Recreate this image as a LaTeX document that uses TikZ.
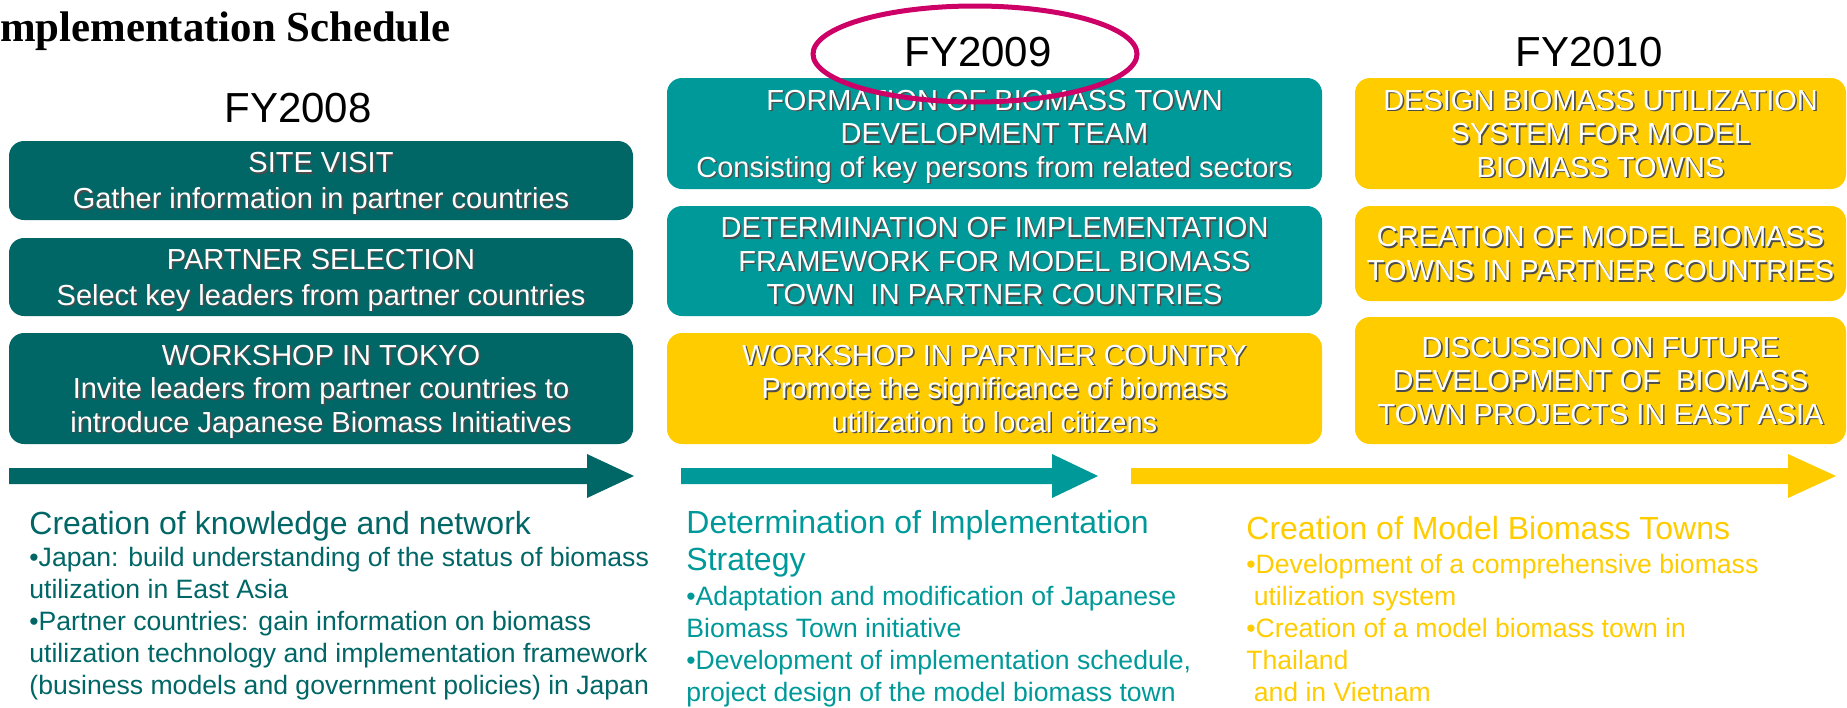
\documentclass[tikz,border=0pt]{standalone}
\usepackage{fontspec}
\setmainfont{Liberation Sans}
\newfontfamily\titleserif{Liberation Serif}
\definecolor{darkteal}{HTML}{006666}
\definecolor{midteal}{HTML}{009999}
\definecolor{gold}{HTML}{FFCC00}
\definecolor{ring}{HTML}{CC0066}
\newcommand{\shtxt}[1]{\makebox[0pt][l]{\kern0.8pt\raisebox{-0.8pt}{\textcolor{black!70}{#1}}}#1}

\begin{document}
\begin{tikzpicture}[x=0.5pt,y=-0.5pt,
  box/.style={rounded corners=7.5pt, text=white, align=center, inner sep=0pt, text depth=0pt,
    font=\fontsize{14.5}{16.8}\selectfont},
  widebox/.style={box, font=\fontsize{14.5}{18}\selectfont},
  year/.style={inner sep=0pt, font=\fontsize{21}{25}\selectfont},
  headtxt/.style={anchor=base west, inner sep=0pt, align=left, font=\fontsize{16}{18.5}\selectfont},
  bullettxt/.style={anchor=base west, inner sep=0pt, align=left, font=\fontsize{13.3}{16}\selectfont}]
  \useasboundingbox (0,0) rectangle (1847,707);

  % titolo
  \node[anchor=base east, inner sep=0pt, font=\titleserif\bfseries\fontsize{21.4}{25}\selectfont] (title) at (451,41) {Implementation Schedule};

  % anni
  \node[year] (fy08) at (298,108) {FY2008};
  \node[year] (fy09) at (978,52) {FY2009};
  \node[year] (fy10) at (1589,52) {FY2010};

  % FY2008
  \node[widebox, fill=darkteal, minimum width=312pt, minimum height=39.5pt] (visit) at (321,180.5)
    {\shtxt{SITE VISIT}\\ \shtxt{Gather information in partner countries}};
  \node[widebox, fill=darkteal, minimum width=312pt, minimum height=39pt] (select) at (321,277)
    {\shtxt{PARTNER SELECTION}\\ \shtxt{Select key leaders from partner countries}};
  \node[box, fill=darkteal, minimum width=312pt, minimum height=55.5pt] (tokyo) at (321,388.5)
    {\shtxt{WORKSHOP IN TOKYO}\\ \shtxt{Invite leaders from partner countries to}\\ \shtxt{introduce Japanese Biomass Initiatives}};

  % FY2009
  \node[box, fill=midteal, minimum width=327.5pt, minimum height=55.5pt] (team) at (994.5,133.5)
    {\shtxt{FORMATION OF BIOMASS TOWN}\\ \shtxt{DEVELOPMENT TEAM}\\ \shtxt{Consisting of key persons from related sectors}};
  \node[box, fill=midteal, minimum width=327.5pt, minimum height=55pt] (frame) at (994.5,261)
    {\shtxt{DETERMINATION OF IMPLEMENTATION}\\ \shtxt{FRAMEWORK FOR MODEL BIOMASS}\\ \shtxt{TOWN\ \ IN PARTNER COUNTRIES}};
  \node[box, fill=gold, minimum width=327.5pt, minimum height=55.5pt] (local) at (994.5,388.5)
    {\shtxt{WORKSHOP IN PARTNER COUNTRY}\\ \shtxt{Promote the significance of biomass}\\ \shtxt{utilization to local citizens}};

  % FY2010
  \node[box, fill=gold, minimum width=245.5pt, minimum height=55.5pt] (design) at (1600.5,133.5)
    {\shtxt{DESIGN BIOMASS UTILIZATION}\\ \shtxt{SYSTEM FOR MODEL}\\ \shtxt{BIOMASS TOWNS}};
  \node[box, fill=gold, minimum width=245.5pt, minimum height=47.5pt] (create) at (1600.5,253.5)
    {\shtxt{CREATION OF MODEL BIOMASS}\\ \shtxt{TOWNS IN PARTNER COUNTRIES}};
  \node[box, fill=gold, minimum width=245.5pt, minimum height=63.5pt] (future) at (1600.5,380.5)
    {\shtxt{DISCUSSION ON FUTURE}\\ \shtxt{DEVELOPMENT OF\ \ BIOMASS}\\ \shtxt{TOWN PROJECTS IN EAST ASIA}};

  % frecce
  \fill[darkteal] (9,468) -- (587,468) -- (587,454) -- (634,476) -- (587,498) -- (587,484) -- (9,484) -- cycle;
  \fill[midteal] (681,468) -- (1052,468) -- (1052,454) -- (1098,476) -- (1052,498) -- (1052,484) -- (681,484) -- cycle;
  \fill[gold] (1131,468) -- (1788,468) -- (1788,454) -- (1836,476) -- (1788,498) -- (1788,484) -- (1131,484) -- cycle;

  % testi sotto (base = ultima riga)
  \node[headtxt, text=darkteal] (knowhead) at (29,534) {Creation of knowledge and network};
  \node[bullettxt, text=darkteal] (knowlist) at (29,694)
    {\textbullet Japan: build understanding of the status of biomass\\
     utilization in East Asia\\
     \textbullet Partner countries: gain information on biomass\\
     utilization technology and implementation framework\\
     (business models and government policies) in Japan};

  \node[headtxt, text=midteal] (strathead) at (686,570) {Determination of Implementation\\Strategy};
  \node[bullettxt, text=midteal] (stratlist) at (686,701)
    {\textbullet Adaptation and modification of Japanese\\
     Biomass Town initiative\\
     \textbullet Development of implementation schedule,\\
     project design of the model biomass town};

  \node[headtxt, text=gold] (townhead) at (1246,539) {Creation of Model Biomass Towns};
  \node[bullettxt, text=gold] (townlist) at (1246,701)
    {\textbullet Development of a comprehensive biomass\\
     \ utilization system\\
     \textbullet Creation of a model biomass town in\\
     Thailand\\
     \ and in Vietnam};

  % cerchio
  \draw[ring, line width=2.5pt] (975,54) ellipse [x radius=162, y radius=48];
\end{tikzpicture}
\end{document}
